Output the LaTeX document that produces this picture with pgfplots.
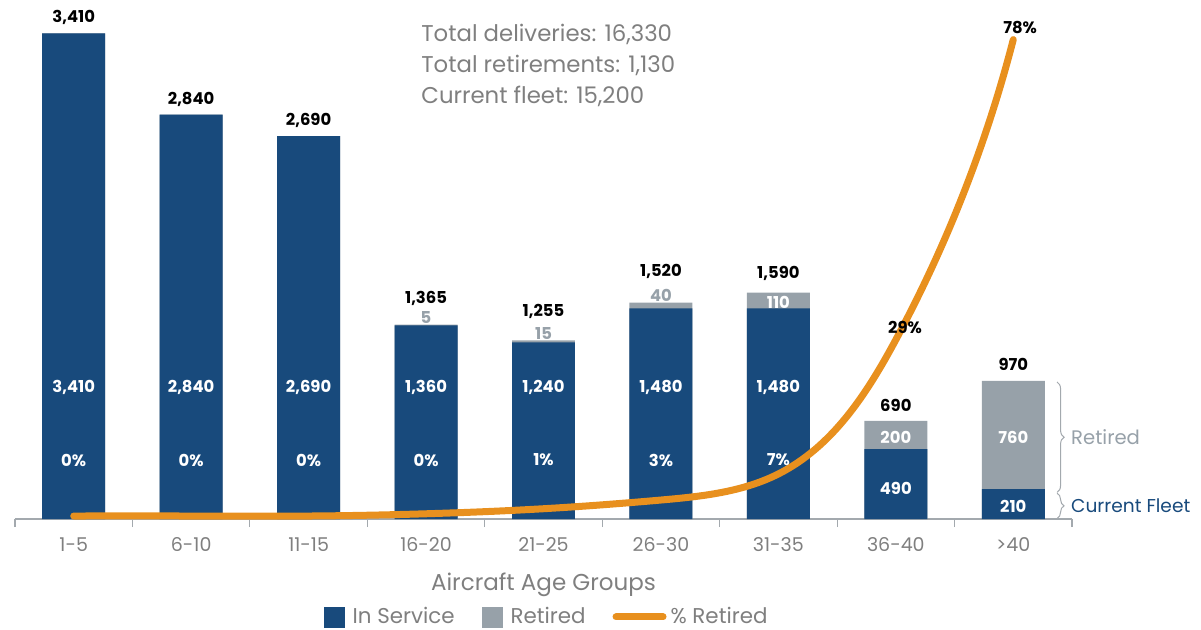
\documentclass[border=0pt]{standalone}
\usepackage{fontspec}
\setmainfont{Poppins}
\usepackage{pgfplots}
\pgfplotsset{compat=1.18}
\usepackage{pgfplotstable}
\usetikzlibrary{decorations.pathreplacing,hobby}

\definecolor{fleetblue}{HTML}{184A7C}
\definecolor{retgray}{HTML}{97A1A9}
\definecolor{lineorange}{HTML}{E8901E}
\definecolor{txtgray}{HTML}{7F7F7F}
\definecolor{axgray}{HTML}{A3A9AE}

\pgfplotstableread{
x inservice retired total
0 3410 0 3410
1 2840 0 2840
2 2690 0 2690
3 1360 5 1365
4 1240 15 1255
5 1480 40 1520
6 1480 110 1590
7 490 200 690
8 210 760 970
}\bardata

\pgfplotstableread{
x pct
0 0
1 0
2 0
3 0.37
4 1.20
5 2.63
6 6.92
7 28.99
8 78.35
}\pctdata

\pgfplotstableread{
x y label
0 3526 3,410
1 2950 2,840
2 2802 2,690
3 1552 1,365
4 1461 1,255
5 1742 1,520
6 1728 1,590
7 801 690
8 1089 970
7.078 1348 29\%
8.058 3449 78\%
}\blacklabels

\pgfplotstableread{
x y label
0 921 3,410
1 921 2,840
2 921 2,690
3 921 1,360
4 921 1,240
5 921 1,480
6 921 1,480
7 218 490
8 91 210
6 1524 110
7 576 200
8 576 760
0 414 0\%
1 414 0\%
2 414 0\%
3 414 0\%
4 414 1\%
5 414 3\%
6 414 7\%
}\whitelabels

\pgfplotstableread{
x y label
3 1412 5
4 1306 15
5 1573 40
}\graylabels

\pgfplotsset{
  lbl/.style={draw=none, mark=none, forget plot, nodes near coords,
    point meta=explicit symbolic,
    nodes near coords style={anchor=center, inner sep=0pt,
      font=\bfseries\fontsize{8.2}{9}\selectfont, text=#1}},
  common/.style={scale only axis, width=528.5pt, height=254.5pt,
    at={(7.5pt,55pt)}, anchor=south west, xmin=-0.5, xmax=8.5, clip=false}
}

\begin{document}
\begin{tikzpicture}
\useasboundingbox (0,0) rectangle (600.5pt,314.5pt);
% bars and x axis
\begin{axis}[common,
  ymin=0, ymax=3575,
  axis x line*=bottom, axis y line=none, ytick=\empty,
  x axis line style={axgray, line width=1pt},
  xtick={0,...,8},
  xticklabels={1-5,6-10,11-15,16-20,21-25,26-30,31-35,36-40,>40},
  major tick length=0pt,
  minor xtick={-0.5,0.5,...,8.5},
  minor tick length=4pt,
  tick align=outside,
  minor tick style={axgray, line width=0.6pt},
  xticklabel style={anchor=base, yshift=-16.25pt, text=txtgray, font=\fontsize{9.5}{11}\selectfont},
  xlabel={Aircraft Age Groups},
  xlabel style={at={(axis description cs:0.5,0)}, anchor=base, yshift=-35.5pt, text=txtgray, font=\fontsize{11.5}{13}\selectfont},
  legend style={at={(0.504,-0.1925)}, anchor=center, draw=none, fill=none,
    font=\fontsize{10.7}{12}\selectfont, text=txtgray, inner sep=0pt,
    /tikz/every even column/.append style={column sep=11.5pt}},
  legend columns=3, legend cell align=left,
]
\addplot[ybar, bar width=0.536, bar shift=0pt, fill=retgray, draw=none, forget plot] table[x=x, y=total] {\bardata};
\addplot[ybar, bar width=0.536, bar shift=0pt, fill=fleetblue, draw=none, forget plot] table[x=x, y=inservice] {\bardata};

\addlegendimage{legend image code/.code={\fill[fleetblue] (0pt,-5pt) rectangle (10pt,5pt);}}
\addlegendentry{\hspace{2pt}In Service}
\addlegendimage{legend image code/.code={\fill[retgray] (0pt,-5pt) rectangle (10pt,5pt);}}
\addlegendentry{\hspace{2pt}Retired}
\addlegendimage{legend image code/.code={\draw[lineorange, line width=3.5pt, line cap=round] (1.75pt,0pt) -- (25.25pt,0pt);}}
\addlegendentry{\% Retired}
\end{axis}

% percentage retired line (secondary scale)
\begin{axis}[common, ymin=-0.49, ymax=83.22, hide axis]
\addplot[lineorange, line width=3.5pt, line cap=round, hobby, mark=none] table[x=x, y=pct] {\pctdata};
\end{axis}

% labels and annotations on top
\begin{axis}[common, ymin=0, ymax=3575, hide axis]
\addplot[lbl=black] table[x=x, y=y, meta=label] {\blacklabels};
\addplot[lbl=white] table[x=x, y=y, meta=label] {\whitelabels};
\addplot[lbl=retgray] table[x=x, y=y, meta=label] {\graylabels};

\draw[axgray, line width=0.5pt, decorate, decoration={brace, amplitude=3.5pt}] (axis cs:8.373,962) -- (axis cs:8.373,187);
\draw[axgray, line width=0.5pt, decorate, decoration={brace, amplitude=3.5pt}] (axis cs:8.373,181) -- (axis cs:8.373,4);
\node[anchor=west, text=retgray, font=\fontsize{9.8}{11}\selectfont, inner sep=0pt] at (axis cs:8.49,576) {Retired};
\node[anchor=west, text=fleetblue, font=\fontsize{9.3}{11}\selectfont, inner sep=0pt] at (axis cs:8.49,91) {Current Fleet};

\node[anchor=west, align=left, inner sep=0pt, text=txtgray, font=\fontsize{11.4}{15.3}\selectfont] at (axis cs:2.957,3185) {Total deliveries: 16,330\\Total retirements: 1,130\\Current fleet: 15,200};
\end{axis}
\end{tikzpicture}
\end{document}
